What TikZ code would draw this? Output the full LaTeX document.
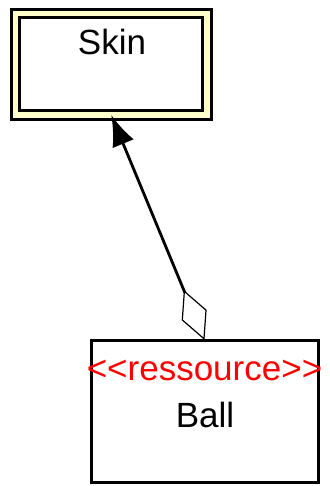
\documentclass[tikz,border=0pt]{standalone}
\usepackage{fontspec}
\newfontfamily\umlfont{Liberation Sans}
\usetikzlibrary{arrows.meta}
\definecolor{skinfill}{RGB}{255,255,204}

\begin{document}
\begin{tikzpicture}[x=1pt, y=-1pt, font=\umlfont\fontsize{35}{40}\selectfont,
    classbox/.style={draw=black, fill=white, inner sep=0pt, outer sep=0pt},
    classname/.style={anchor=base, inner sep=0pt}]
    \useasboundingbox (0,0) rectangle (329,486);
    \node[classbox, line width=2.8pt, double=skinfill, double distance=5.5pt,
      minimum width=191.5pt, minimum height=101.5pt] (skin) at (111.25,64.25) {};
    \node[classname] (skinname) at (112,55) {Skin};
    \node[classbox, line width=3pt, minimum width=227pt, minimum height=142pt] (ball) at (204.5,411) {};
    \node[classname, text=red] (ballstereo) at (204.5,380) {<<ressource>>};
    \node[classname] (ballname) at (205,427) {Ball};
    % aggregation Ball -> Skin
    \draw[line width=2.8pt,
      {Diamond[open, length=54pt, width=27pt, line width=1.2pt]}-{Latex[length=31pt, width=23pt]}]
      (ball.north) -- (skin.south);
\end{tikzpicture}
\end{document}
